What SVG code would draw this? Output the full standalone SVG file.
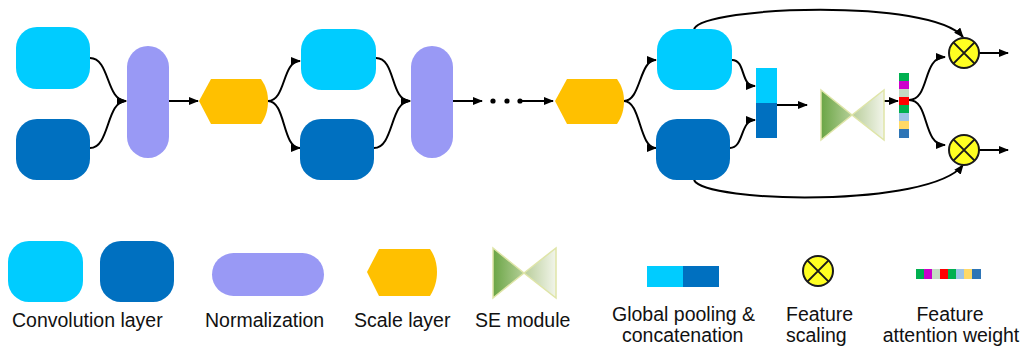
<svg xmlns="http://www.w3.org/2000/svg" width="1026" height="350" viewBox="0 0 1026 350">
<style>
.c1{fill:#00CCFF}
.c2{fill:#0070C0}
.nm{fill:#9999F5}
.sc{fill:#FFC000}
.con{fill:none;stroke:#000;stroke-width:2;marker-end:url(#ah)}
.fs{fill:#FFFF22;stroke:#1a1a1a;stroke-width:2}
.fx{stroke:#1a1a1a;stroke-width:2}
.t{font-family:"Liberation Sans",Arial,sans-serif;font-size:19.5px;fill:#111}
.se{stroke:#dfe5a8;stroke-width:1.5}
</style>
<defs>
<marker id="ah" markerUnits="userSpaceOnUse" markerWidth="10" markerHeight="8" refX="9" refY="4" orient="auto">
<path d="M0,0 L10,4 L0,8 Z" fill="#000"/>
</marker>
<linearGradient id="gL" x1="0" y1="0" x2="1" y2="0">
<stop offset="0" stop-color="#6aa545"/>
<stop offset="1" stop-color="#b5cf98"/>
</linearGradient>
<linearGradient id="gR" x1="0" y1="0" x2="1" y2="0">
<stop offset="0" stop-color="#b8cd9a"/>
<stop offset="1" stop-color="#f2f5ea"/>
</linearGradient>
</defs>
<rect width="1026" height="350" fill="#fff"/>

<g id="connectors">
<path class="con" d="M90,58 C110,58 106,101 126,101"/>
<path class="con" d="M90,148 C110,148 106,101 126,101"/>
<path class="con" d="M169,101 L198,101"/>
<path class="con" d="M268,101 C286,101 282,61 300,61"/>
<path class="con" d="M268,101 C286,101 282,148 300,148"/>
<path class="con" d="M376,58 C396,58 390,101 410,101"/>
<path class="con" d="M374,148 C394,148 390,101 410,101"/>
<path class="con" d="M453,101 L482,101"/>
<path class="con" d="M520,101 L553,101"/>
<path class="con" d="M624,101 C641,101 639,60 656,60"/>
<path class="con" d="M624,101 C641,101 639,148 656,148"/>
<path class="con" d="M732,60 C746,60 740,86 755,86"/>
<path class="con" d="M730,148 C744,148 740,120 755,120"/>
<path class="con" d="M777,105 L807,105"/>
<path class="con" d="M884,101 L898,101"/>
<path class="con" d="M909,100 C930,100 922,57 945,57"/>
<path class="con" d="M909,100 C930,100 922,145 945,145"/>
<path class="con" d="M979,53 L1008,53"/>
<path class="con" d="M979,150 L1008,150"/>
<path class="con" d="M694,29 C705,6 930,-2 963,37"/>
<path class="con" d="M694,180 C705,203 930,208 963,165"/>
</g>
<g id="dots" fill="#000">
<circle cx="493" cy="101" r="2.6"/>
<circle cx="507" cy="101" r="2.6"/>
<circle cx="520" cy="101" r="2.6"/>
</g>

<g id="conv1a"><rect class="c1" x="16" y="27" width="74" height="62" rx="21"/></g>
<g id="conv1b"><rect class="c2" x="16" y="119" width="74" height="61" rx="21"/></g>
<g id="norm1"><rect class="nm" x="127" y="46" width="42" height="112" rx="21"/></g>
<g id="scale1"><path class="sc" d="M199,101 L211,79 L261,79 C266,86 268,93 268,101 C268,109 266,117 261,124 L211,124 Z"/></g>
<g id="conv2a"><rect class="c1" x="301" y="29" width="75" height="61" rx="21"/></g>
<g id="conv2b"><rect class="c2" x="300" y="119" width="74" height="61" rx="21"/></g>
<g id="norm2"><rect class="nm" x="411" y="46" width="42" height="112" rx="21"/></g>
<g id="scale2"><path class="sc" d="M555,101 L567,79 L617,79 C622,86 624,93 624,101 C624,109 622,117 617,124 L567,124 Z"/></g>
<g id="conv3a"><rect class="c1" x="657" y="29" width="75" height="61" rx="21"/></g>
<g id="conv3b"><rect class="c2" x="656" y="119" width="74" height="61" rx="21"/></g>
<g id="pool">
<rect class="c1" x="756" y="68" width="21" height="35"/>
<rect class="c2" x="756" y="103" width="21" height="35"/>
</g>
<g id="se">
<path class="se" d="M821,90 L821,140 L852,115 Z" fill="url(#gL)"/>
<path class="se" d="M852,115 L884,90 L884,140 Z" fill="url(#gR)"/>
</g>
<g id="attn">
<rect x="899" y="73" width="10" height="8" fill="#00B050"/>
<rect x="899" y="81" width="10" height="8" fill="#CC00CC"/>
<rect x="899" y="89" width="10" height="8" fill="#C3DCC3"/>
<rect x="899" y="97" width="10" height="8" fill="#FF0000"/>
<rect x="899" y="105" width="10" height="8" fill="#00B050"/>
<rect x="899" y="113" width="10" height="8" fill="#9DC3E6"/>
<rect x="899" y="121" width="10" height="8" fill="#FFD966"/>
<rect x="899" y="129" width="10" height="9" fill="#2E75B6"/>
</g>
<g id="mul1">
<circle class="fs" cx="964" cy="53" r="15"/>
<path class="fx" d="M953.4,42.4 L974.6,63.6 M974.6,42.4 L953.4,63.6"/>
</g>
<g id="mul2">
<circle class="fs" cx="964" cy="150" r="15"/>
<path class="fx" d="M953.4,139.4 L974.6,160.6 M974.6,139.4 L953.4,160.6"/>
</g>

<g id="legend-conv">
<rect class="c1" x="8" y="241" width="75" height="61" rx="21"/>
<rect class="c2" x="100" y="241" width="74" height="61" rx="21"/>
<text class="t" x="12" y="327">Convolution layer</text>
</g>
<g id="legend-norm">
<rect class="nm" x="212" y="253" width="112" height="43" rx="21.5"/>
<text class="t" x="205" y="327">Normalization</text>
</g>
<g id="legend-scale">
<path class="sc" d="M367,272 L379,249 L430,249 C435,256 437,264 437,272 C437,280 435,288 430,296 L379,296 Z"/>
<text class="t" x="354" y="327">Scale layer</text>
</g>
<g id="legend-se">
<path class="se" d="M493,248 L493,298 L524,273 Z" fill="url(#gL)"/>
<path class="se" d="M524,273 L556,248 L556,298 Z" fill="url(#gR)"/>
<text class="t" x="475" y="327">SE module</text>
</g>
<g id="legend-pool">
<rect class="c1" x="647" y="266" width="36" height="21"/>
<rect class="c2" x="683" y="266" width="36" height="21"/>
<text class="t" x="612" y="321">Global pooling &amp;</text>
<text class="t" x="622" y="342">concatenation</text>
</g>
<g id="legend-scaling">
<circle class="fs" cx="818" cy="271" r="15"/>
<path class="fx" d="M807.4,260.4 L828.6,281.6 M828.6,260.4 L807.4,281.6"/>
<text class="t" x="786" y="321">Feature</text>
<text class="t" x="786" y="342">scaling</text>
</g>
<g id="legend-attn">
<rect x="916" y="269" width="8" height="10" fill="#00B050"/>
<rect x="924" y="269" width="8" height="10" fill="#CC00CC"/>
<rect x="932" y="269" width="8" height="10" fill="#C3DCC3"/>
<rect x="940" y="269" width="8" height="10" fill="#FF0000"/>
<rect x="948" y="269" width="8" height="10" fill="#00B050"/>
<rect x="956" y="269" width="8" height="10" fill="#9DC3E6"/>
<rect x="964" y="269" width="8" height="10" fill="#FFD966"/>
<rect x="972" y="269" width="9" height="10" fill="#2E75B6"/>
<text class="t" x="950" y="321" text-anchor="middle">Feature</text>
<text class="t" x="951" y="342" text-anchor="middle">attention weight</text>
</g>
</svg>
